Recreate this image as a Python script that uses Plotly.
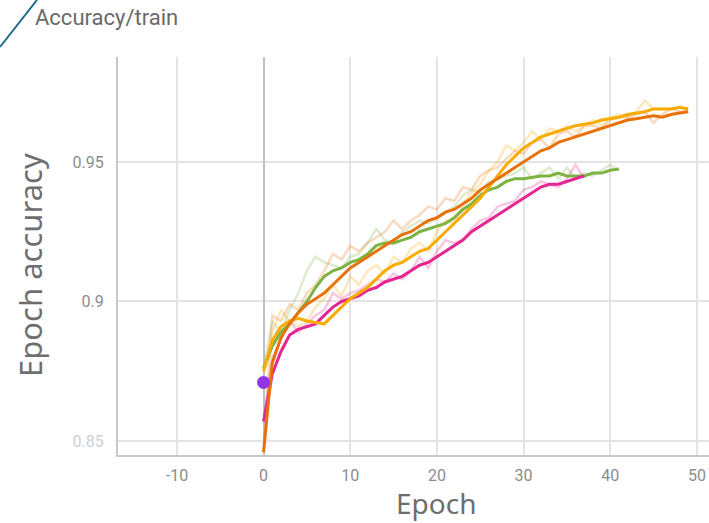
import plotly.graph_objects as go

# ---------------- data ----------------
green_smooth = [0.876, 0.884, 0.889, 0.892, 0.896, 0.900, 0.905, 0.909, 0.911, 0.912,
                0.914, 0.915, 0.917, 0.920, 0.921, 0.921, 0.922, 0.923, 0.925, 0.926,
                0.927, 0.928, 0.930, 0.933, 0.935, 0.938, 0.940, 0.941, 0.943, 0.944,
                0.944, 0.9445, 0.945, 0.945, 0.946, 0.945, 0.945, 0.945, 0.946, 0.946,
                0.947, 0.9475]
green_raw = [0.876, 0.893, 0.889, 0.897, 0.903, 0.911, 0.916, 0.914, 0.913, 0.912,
             0.916, 0.917, 0.921, 0.926, 0.922, 0.921, 0.925, 0.927, 0.929, 0.928,
             0.930, 0.932, 0.934, 0.938, 0.940, 0.939, 0.943, 0.944, 0.945, 0.946,
             0.948, 0.944, 0.946, 0.948, 0.944, 0.948, 0.944, 0.946, 0.945, 0.947,
             0.949, 0.947]

orange_smooth = [0.846, 0.878, 0.887, 0.892, 0.896, 0.899, 0.901, 0.903, 0.906, 0.909,
                 0.912, 0.914, 0.916, 0.918, 0.920, 0.922, 0.924, 0.925, 0.927, 0.929,
                 0.930, 0.932, 0.933, 0.935, 0.937, 0.940, 0.942, 0.944, 0.946, 0.948,
                 0.950, 0.952, 0.954, 0.955, 0.957, 0.958, 0.959, 0.960, 0.961, 0.962,
                 0.963, 0.964, 0.965, 0.9655, 0.966, 0.9665, 0.966, 0.967, 0.9675, 0.968]
orange_raw = [0.846, 0.895, 0.893, 0.899, 0.897, 0.903, 0.906, 0.911, 0.917, 0.915,
              0.920, 0.918, 0.921, 0.923, 0.925, 0.929, 0.926, 0.929, 0.931, 0.934,
              0.933, 0.937, 0.936, 0.941, 0.940, 0.945, 0.947, 0.948, 0.951, 0.954,
              0.953, 0.957, 0.958, 0.955, 0.960, 0.961, 0.959, 0.963, 0.963, 0.962,
              0.965, 0.966, 0.966, 0.967, 0.968, 0.964, 0.967, 0.969, 0.968, 0.968]

yellow_smooth = [0.875, 0.886, 0.891, 0.893, 0.894, 0.893, 0.8925, 0.892, 0.895, 0.898,
                 0.901, 0.903, 0.905, 0.908, 0.911, 0.913, 0.914, 0.916, 0.918, 0.919,
                 0.922, 0.925, 0.928, 0.931, 0.934, 0.937, 0.941, 0.945, 0.949, 0.952,
                 0.955, 0.957, 0.959, 0.960, 0.961, 0.962, 0.963, 0.9635, 0.964, 0.965,
                 0.9655, 0.966, 0.967, 0.9675, 0.968, 0.969, 0.969, 0.969, 0.9695, 0.969]
yellow_raw = [0.875, 0.889, 0.897, 0.893, 0.891, 0.893, 0.898, 0.901, 0.906, 0.902,
              0.909, 0.906, 0.911, 0.913, 0.910, 0.916, 0.914, 0.919, 0.921, 0.918,
              0.925, 0.929, 0.928, 0.935, 0.939, 0.942, 0.947, 0.950, 0.956, 0.954,
              0.957, 0.961, 0.958, 0.962, 0.961, 0.963, 0.961, 0.963, 0.965, 0.963,
              0.966, 0.967, 0.966, 0.968, 0.972, 0.969, 0.969, 0.969, 0.970, 0.969]

pink_smooth = [0.857, 0.874, 0.882, 0.888, 0.890, 0.891, 0.892, 0.895, 0.898, 0.900,
               0.901, 0.902, 0.904, 0.905, 0.907, 0.908, 0.909, 0.911, 0.913, 0.914,
               0.916, 0.918, 0.920, 0.922, 0.925, 0.927, 0.929, 0.931, 0.933, 0.935,
               0.937, 0.939, 0.941, 0.942, 0.942, 0.943, 0.944, 0.945]
pink_raw = [0.857, 0.880, 0.886, 0.893, 0.889, 0.892, 0.895, 0.897, 0.903, 0.901,
            0.903, 0.904, 0.906, 0.908, 0.907, 0.910, 0.908, 0.911, 0.916, 0.912,
            0.918, 0.922, 0.921, 0.922, 0.926, 0.929, 0.930, 0.934, 0.935, 0.936,
            0.940, 0.941, 0.943, 0.942, 0.941, 0.944, 0.949, 0.944]

point_epoch = [0]
point_value = [0.871]

x_ticks = [-10, 0, 10, 20, 30, 40, 50]
y_ticks = [0.85, 0.9, 0.95]
y_tick_labels = ['<span style="color:#d0d0d0">0.85</span>', "0.9", "0.95"]

series = [
    ("green", green_raw, green_smooth, "#7cb342"),
    ("pink", pink_raw, pink_smooth, "#e52592"),
    ("yellow", yellow_raw, yellow_smooth, "#f9ab00"),
    ("orange", orange_raw, orange_smooth, "#e8710a"),
]

# ---------------- figure ----------------
fig = go.Figure()

for name, raw, smooth, color in series:
    fig.add_trace(go.Scatter(x=list(range(len(raw))), y=raw, mode="lines",
                             line=dict(color=color, width=2.5), opacity=0.25,
                             showlegend=False, hoverinfo="skip"))
for name, raw, smooth, color in series:
    fig.add_trace(go.Scatter(x=list(range(len(smooth))), y=smooth, mode="lines",
                             line=dict(color=color, width=3), name=name,
                             showlegend=False))

fig.add_trace(go.Scatter(x=point_epoch, y=point_value, mode="markers",
                         marker=dict(color="#9334e6", size=13), showlegend=False))

L, R, T, B = 118, 0, 57, 68
W, H = 709, 523
pw = W - L - R
ph = H - T - B

fig.update_layout(
    width=W, height=H,
    margin=dict(l=L, r=R, t=T, b=B),
    paper_bgcolor="white", plot_bgcolor="white",
    font=dict(family="Roboto, sans-serif"),
    xaxis=dict(range=[-16.8, 51.4], tickvals=x_ticks, ticktext=[str(v) for v in x_ticks],
               showgrid=True, gridcolor="#e4e4e4", gridwidth=1.5,
               zeroline=True, zerolinecolor="#c0c0c0", zerolinewidth=2,
               showline=True, linecolor="#c8c8c8", linewidth=2,
               ticks="outside", ticklen=5, tickcolor="rgba(0,0,0,0)",
               tickfont=dict(size=16, color="#8c8c8c", family="Roboto")),
    yaxis=dict(range=[0.845, 0.9876], tickvals=y_ticks, ticktext=y_tick_labels,
               showgrid=True, gridcolor="#e4e4e4", gridwidth=1.5,
               zeroline=False,
               showline=True, linecolor="#c8c8c8", linewidth=2,
               ticks="outside", ticklen=9, tickcolor="rgba(0,0,0,0)",
               tickfont=dict(size=16, color="#8c8c8c", family="Roboto")),
)

# titles
fig.add_annotation(text="Epoch", xref="paper", yref="paper",
                   x=(436 - L) / pw, y=(H - B - 503) / ph,
                   showarrow=False, xanchor="center", yanchor="middle",
                   borderpad=0,
                   font=dict(size=28, color="#6e6e6e", family="Noto Sans"))
fig.add_annotation(text="Epoch accuracy", xref="paper", yref="paper",
                   x=(30 - L) / pw, y=(H - B - 265) / ph, textangle=-90,
                   showarrow=False, xanchor="center", yanchor="middle",
                   font=dict(size=31, color="#6e6e6e", family="Noto Sans"))
fig.add_annotation(text="Accuracy/train", xref="paper", yref="paper",
                   x=(33 - L) / pw, y=(H - B - 18) / ph,
                   showarrow=False, xanchor="left", yanchor="middle",
                   font=dict(size=22, color="#6a6a6a", family="Roboto"))

# decorative diagonal stroke at the top-left corner
fig.add_shape(type="line", xref="paper", yref="paper",
              x0=(0 - L) / pw, y0=(H - B - 47) / ph,
              x1=(37 - L) / pw, y1=(H - B - 0) / ph,
              line=dict(color="#1b6a8c", width=2))

fig.write_html("out.html")
